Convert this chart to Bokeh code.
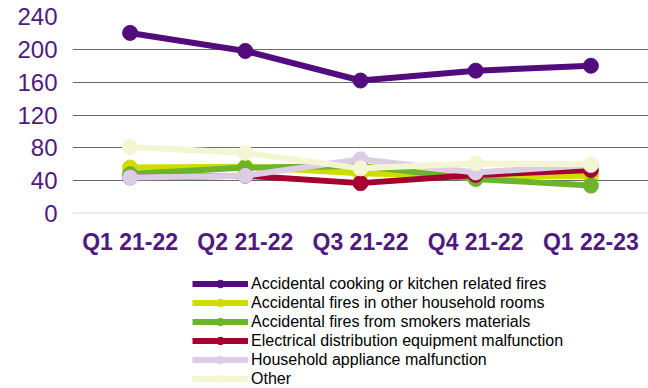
from bokeh.plotting import figure
from bokeh.layouts import column
from bokeh.models import Legend, LegendItem, FactorRange, Range1d, FixedTicker, Span
from bokeh.embed import file_html
from bokeh.resources import INLINE

quarters = ["Q1 21-22", "Q2 21-22", "Q3 21-22", "Q4 21-22", "Q1 22-23"]

cooking = [220, 198, 162, 174, 180]
other_rooms = [56, 57, 49, 45, 46]
smokers = [48, 56, 58, 42, 34]
electrical = [44, 46, 37, 47, 53]
appliance = [44, 46, 66, 50, 59]
other = [81, 74, 55, 61, 60]

series = [
    ("Accidental cooking or kitchen related fires", cooking, "#520c7e"),
    ("Accidental fires in other household rooms", other_rooms, "#cfdc00"),
    ("Accidental fires from smokers materials", smokers, "#6cb42c"),
    ("Electrical distribution equipment malfunction", electrical, "#a5002f"),
    ("Household appliance malfunction", appliance, "#dccde6"),
    ("Other", other, "#f3f5d3"),
]

TEXT = "#4f1a7f"

# ---- main chart -------------------------------------------------------
p = figure(
    width=648, height=260,
    x_range=FactorRange(*quarters, range_padding=0),
    y_range=Range1d(0, 240),
    output_backend="svg", toolbar_location=None,
    min_border_left=72, min_border_right=0, min_border_top=16,
    min_border_bottom=47,
)
p.outline_line_color = None
p.border_fill_color = "white"

p.xgrid.grid_line_color = None
p.ygrid.grid_line_color = "#6a6a6a"
p.ygrid.grid_line_width = 1
p.yaxis.ticker = FixedTicker(ticks=[0, 40, 80, 120, 160, 200, 240])

for ax in (p.xaxis, p.yaxis):
    ax.axis_line_color = None
    ax.major_tick_line_color = None
    ax.minor_tick_line_color = None
    ax.major_tick_out = 0
    ax.major_tick_in = 0
    ax.minor_tick_out = 0
    ax.major_label_text_color = TEXT
    ax.major_label_text_font = "Liberation Sans"

p.yaxis.major_label_text_font_size = "24px"
p.yaxis.major_label_standoff = 15
p.xaxis.major_label_text_font_size = "23px"
p.xaxis.major_label_text_font_style = "bold"
p.xaxis.major_label_standoff = 15

# lighter baseline at zero
p.add_layout(Span(location=0, dimension="width", line_color="#d9d9d9", line_width=2))

for name, vals, col in series:
    p.line(quarters, vals, line_color=col, line_width=6)
    p.scatter(quarters, vals, size=15, fill_color=col, line_color=col)

# ---- legend panel beneath the chart -------------------------------------
lg = figure(
    width=648, height=128,
    x_range=Range1d(0, 1), y_range=Range1d(0, 1),
    output_backend="svg", toolbar_location=None,
    min_border=0,
)
lg.axis.visible = False
lg.grid.visible = False
lg.outline_line_color = None

items = []
for name, vals, col in series:
    # swatch renderers sit outside the visible range; only the legend shows them
    r1 = lg.line([5, 6], [5, 6], line_color=col, line_width=6)
    r2 = lg.scatter([5], [5], size=15, fill_color=col, line_color=col)
    items.append(LegendItem(label=name, renderers=[r1, r2]))

legend = Legend(
    items=items,
    location=(120, 0),
    orientation="vertical",
    label_text_font="Liberation Sans",
    label_text_font_size="16px",
    label_text_color="black",
    label_height=19,
    glyph_height=19,
    glyph_width=56,
    label_standoff=3,
    spacing=0,
    padding=0,
    margin=0,
    border_line_color=None,
    background_fill_alpha=0,
)
lg.add_layout(legend, "center")

open("out.html", "w").write(file_html(column(p, lg, spacing=0), INLINE))
